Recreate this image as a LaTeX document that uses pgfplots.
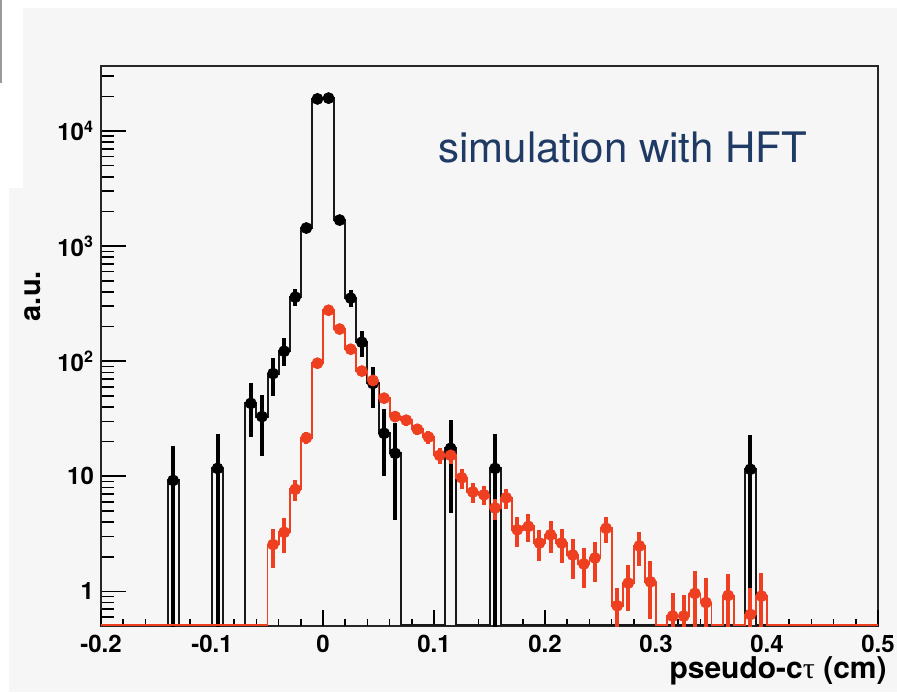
\documentclass[border=0pt]{standalone}
\usepackage{pgfplots}
\pgfplotsset{compat=1.18}
\usepackage{fontspec}
\setmainfont{TeX Gyre Heros}
\newfontfamily\symf{Liberation Serif}
\definecolor{bg}{RGB}{246,246,246}
\definecolor{rootred}{RGB}{238,64,32}
\definecolor{navy}{RGB}{31,58,100}

\pgfplotstableread{
x y
-0.20 0.51
-0.14 9.2
-0.13 0.51
-0.10 11.7
-0.09 0.51
-0.07 43
-0.06 33
-0.05 78
-0.04 122
-0.03 360
-0.02 1435
-0.01 19000
0.00 19300
0.01 1683
0.02 353
0.03 146
0.04 64
0.05 23.6
0.06 15.8
0.07 0.51
0.11 17.5
0.12 0.51
0.15 11.7
0.16 0.51
0.38 11.5
0.39 0.51
0.50 0.51
}\blackhist

\pgfplotstableread{
x y ep em
-0.135 9.2 9.2 8.9
-0.095 11.7 11.5 11.4
-0.065 43 22 21
-0.055 33 18 18
-0.045 78 29 28
-0.035 122 36 32
-0.025 360 60 60
-0.015 1435 120 120
-0.005 19000 440 440
0.005 19300 440 440
0.015 1683 130 130
0.025 353 60 60
0.035 146 38 38
0.045 64 25 25
0.055 23.6 15 13.5
0.065 15.8 13 11.6
0.115 17.5 13.5 12.7
0.155 11.7 11.5 11.4
0.385 11.5 11.5 11.2
}\blackpts

\pgfplotstableread{
x y
-0.20 0.51
-0.05 2.55
-0.04 3.26
-0.03 7.7
-0.02 21.6
-0.01 96
0.00 277
0.01 190
0.02 127
0.03 82
0.04 68
0.05 47.7
0.06 33
0.07 30.7
0.08 25.6
0.09 21.9
0.10 15.2
0.11 15.2
0.12 9.7
0.13 7.3
0.14 6.9
0.15 5.3
0.16 6.5
0.17 3.43
0.18 3.67
0.19 2.63
0.20 3.1
0.21 2.63
0.22 2.07
0.23 1.73
0.24 1.95
0.25 3.53
0.26 0.75
0.27 1.18
0.28 2.48
0.29 1.21
0.30 0.51
0.31 0.61
0.32 0.61
0.33 0.96
0.34 0.8
0.35 0.51
0.36 0.92
0.37 0.51
0.38 0.63
0.39 0.91
0.40 0.51
0.50 0.51
}\redhist

\pgfplotstableread{
x y e
-0.045 2.55 0.95
-0.035 3.26 1.1
-0.025 7.7 1.6
-0.015 21.6 2.7
-0.005 96 5.5
0.005 277 9.3
0.015 190 7.7
0.025 127 6.3
0.035 82 5
0.045 68 4.6
0.055 47.7 3.9
0.065 33 3.3
0.075 30.7 3.1
0.085 25.6 2.9
0.095 21.9 2.7
0.105 15.2 2.3
0.115 15.2 2.3
0.125 9.7 1.9
0.135 7.3 1.4
0.145 6.9 1.3
0.155 5.3 1.1
0.165 6.5 1.3
0.175 3.43 1.0
0.185 3.67 1.0
0.195 2.63 0.8
0.205 3.1 0.95
0.215 2.63 0.85
0.225 2.07 0.8
0.235 1.73 0.65
0.245 1.95 0.75
0.255 3.53 0.92
0.265 0.75 0.33
0.275 1.18 0.5
0.285 2.48 0.82
0.295 1.21 0.63
0.315 0.61 0.36
0.325 0.61 0.32
0.335 0.96 0.55
0.345 0.8 0.5
0.365 0.92 0.5
0.385 0.63 0.45
0.395 0.91 0.54
}\redpts

\begin{document}
\begin{tikzpicture}
\path[use as bounding box, fill=white] (0pt,0pt) rectangle (448.5pt,346pt);
\fill[bg] (11.5pt,0pt) rectangle (448.5pt,342pt);
\fill[bg] (4.5pt,0pt) rectangle (11.5pt,252pt);
\fill[black!40] (0pt,304.5pt) rectangle (1pt,346pt);

% frame, y ticks and labels
\begin{axis}[
  at={(50.5pt,33pt)}, anchor=south west, scale only axis,
  width=388.5pt, height=280pt,
  xmin=-0.2, xmax=0.5, ymode=log, ymin=0.5, ymax=36700,
  axis line style={line width=1pt, black!85},
  xtick=\empty,
  ytick={1,10,100,1000,10000},
  yticklabels={1,10,10\textsuperscript{2},10\textsuperscript{3},10\textsuperscript{4}},
  minor ytick={0.6,0.7,0.8,0.9,2,3,4,5,6,7,8,9,20,30,40,50,60,70,80,90,200,300,400,500,600,700,800,900,2000,3000,4000,5000,6000,7000,8000,9000,20000,30000},
  ytick pos=left, tick align=inside,
  major tick length=12.5pt, minor tick length=6.5pt,
  tick style={line width=0.8pt, black},
  ticklabel style={font=\fontsize{12}{14}\selectfont\bfseries},
  clip=false,
]
\node[anchor=base east, font=\fontsize{15}{18}\selectfont\bfseries, inner sep=0pt] at (axis description cs:1.0116,-0.093) {pseudo-c{\symf\mdseries τ} (cm)};
\node[rotate=90, anchor=base, font=\fontsize{14.5}{17}\selectfont\bfseries] at (axis description cs:-0.0785,0.589) {a.u.};
\node[anchor=base west, text=navy, font=\fontsize{21}{25}\selectfont, inner sep=0pt] at (axis description cs:0.4337,0.8268) {simulation with HFT};
\end{axis}

% data and x ticks
\begin{axis}[
  at={(50.5pt,33pt)}, anchor=south west, scale only axis,
  width=388.5pt, height=280pt,
  xmin=-0.2, xmax=0.5, ymode=log, ymin=0.5, ymax=36700,
  axis line style={draw=none},
  xtick={-0.2,-0.1,0,0.1,0.2,0.3,0.4,0.5},
  xticklabels={-0.2,-0.1,0,0.1,0.2,0.3,0.4,0.5},
  minor x tick num=4,
  xtick pos=left, ytick=\empty, tick align=inside,
  major tick length=8pt, minor tick length=3.7pt,
  tick style={line width=0.8pt, black},
  ticklabel style={font=\fontsize{12}{14}\selectfont\bfseries},
  xticklabel style={yshift=-1pt},
  /pgf/number format/assume math mode=true,
]
\addplot[const plot, black!90, line width=1pt] table[x=x,y=y] {\blackhist};
\addplot[only marks, mark=*, mark size=2.75pt, black, mark options={fill=black, draw=black},
  error bars/.cd, y dir=both, y explicit, error mark=none,
  error bar style={line width=2pt, black}]
  table[x=x, y=y, y error plus=ep, y error minus=em] {\blackpts};
\addplot[const plot, rootred, line width=0.9pt] table[x=x,y=y] {\redhist};
\addplot[only marks, mark=*, mark size=2.75pt, rootred, mark options={fill=rootred, draw=rootred},
  error bars/.cd, y dir=both, y explicit, error mark=none,
  error bar style={line width=2pt, rootred}]
  table[x=x, y=y, y error=e] {\redpts};
\end{axis}
\end{tikzpicture}
\end{document}
